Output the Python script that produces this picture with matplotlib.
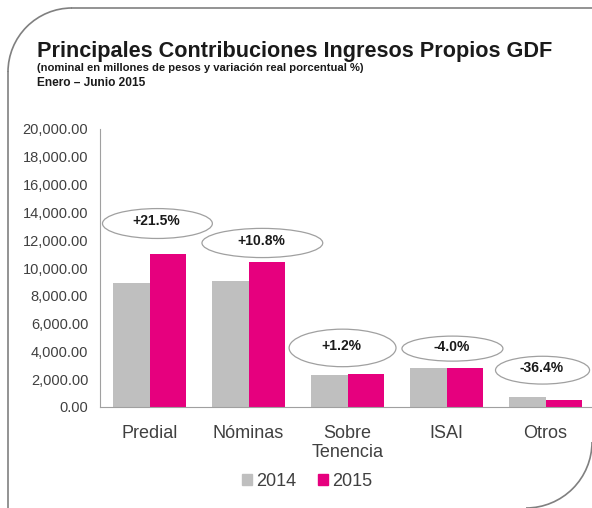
import numpy as np
import matplotlib
matplotlib.use("Agg")
import matplotlib.pyplot as plt
from matplotlib.patches import Ellipse, Arc, Patch
from matplotlib.lines import Line2D
from matplotlib.transforms import Affine2D

# values (millions of pesos)
categories = ["Predial", "Nóminas", "Sobre\nTenencia", "ISAI", "Otros"]
vals_2014 = [8900, 9050, 2300, 2800, 700]
vals_2015 = [11000, 10400, 2350, 2800, 480]
variacion = ["+21.5%", "+10.8%", "+1.2%", "-4.0%", "-36.4%"]
yticks = np.arange(0, 20001, 2000)

GRAY = "#BFBFBF"
PINK = "#E6007E"
TXT = "#404040"
FONT = "Liberation Sans"

W, H = 592, 508
fig = plt.figure(figsize=(W / 100, H / 100), dpi=100)
fig.patch.set_facecolor("white")

# pixel coords (origin top-left) -> figure
px = Affine2D().scale(1 / W, -1 / H).translate(0, 1) + fig.transFigure

# frame: top line, left line, two rounded corners
r = 64
fig.add_artist(Line2D([8 + r, W + 5], [8, 8], transform=px, color="#808080", lw=1.2))
fig.add_artist(Line2D([8, 8], [8 + r, H + 5], transform=px, color="#808080", lw=1.2))
fig.add_artist(Arc((8 + r, 8 + r), 2 * r, 2 * r, theta1=180, theta2=270,
                   transform=px, color="#808080", lw=1.2))
fig.add_artist(Arc((W - 66, H - 66), 132, 132, theta1=0, theta2=90,
                   transform=px, color="#808080", lw=1.2))


def fit_text(x0, y0, s, width_px, size, **kw):
    # shrink/grow the text so it spans the same width as in the source
    t = fig.text(x0 / W, 1 - y0 / H, s, fontsize=size, va="baseline", **kw)
    rend = fig.canvas.get_renderer()
    w = t.get_window_extent(renderer=rend).width
    t.set_fontsize(size * width_px / w)
    return t


fit_text(37, 57, "Principales Contribuciones Ingresos Propios GDF", 516, 15,
         fontweight="bold", family=FONT, color="#1a1a1a")
fit_text(37, 71, "(nominal en millones de pesos y variación real porcentual %)", 326, 9,
         fontweight="bold", family=FONT, color="#1a1a1a")
fit_text(37, 86, "Enero – Junio 2015", 108, 9,
         fontweight="bold", family=FONT, color="#1a1a1a")

ax = fig.add_axes([100 / W, 1 - 407 / H, 495 / W, 278 / H])
x = np.arange(len(categories))
bw = 0.365
ax.bar(x - bw / 2, vals_2014, bw, color=GRAY, label="2014")
ax.bar(x + bw / 2, vals_2015, bw, color=PINK, label="2015")

ax.set_xlim(-0.5, len(categories) - 0.5)
ax.set_ylim(0, 20000)
ax.set_yticks(yticks)
ax.set_yticklabels([f"{v:,.2f}" for v in yticks], fontsize=10.5, color=TXT, family=FONT)
ax.set_xticks(x)
ax.set_xticklabels(categories, fontsize=13, color=TXT, family=FONT,
                   linespacing=1.15, va="top")
ax.tick_params(axis="both", length=0)
ax.tick_params(axis="x", pad=13)
ax.tick_params(axis="y", pad=8.5)
for s in ["top", "right"]:
    ax.spines[s].set_visible(False)
ax.spines["left"].set_color("#A0A0A0")
ax.spines["bottom"].set_color("#A0A0A0")

# ellipse callouts with real variation
ell_x = [0.08, 1.14, 1.95, 3.06, 3.97]
ell_y = [13200, 11800, 4250, 4200, 2650]
ell_w = [1.11, 1.22, 1.08, 1.02, 0.95]
ell_h = [2150, 2100, 2700, 1800, 2000]
for i, lab in enumerate(variacion):
    ax.add_patch(Ellipse((ell_x[i], ell_y[i]), ell_w[i], ell_h[i],
                         facecolor="white", edgecolor="#A0A0A0", lw=0.9,
                         clip_on=False, zorder=3))
    ax.text(ell_x[i] - 0.01, ell_y[i] + 150, lab, ha="center", va="center",
            fontsize=10, fontweight="bold", family=FONT,
            color="#1a1a1a", zorder=4)

handles = [Patch(color=GRAY, label="2014"), Patch(color=PINK, label="2015")]
leg = fig.legend(handles=handles, loc="center", bbox_to_anchor=(307 / W, 1 - 481 / H),
                 ncol=2, frameon=False, handlelength=0.55, handleheight=0.55,
                 handletextpad=0.25, columnspacing=1.2, prop={"family": FONT, "size": 13})
for t in leg.get_texts():
    t.set_color(TXT)

fig.savefig("out.png", dpi=100)
